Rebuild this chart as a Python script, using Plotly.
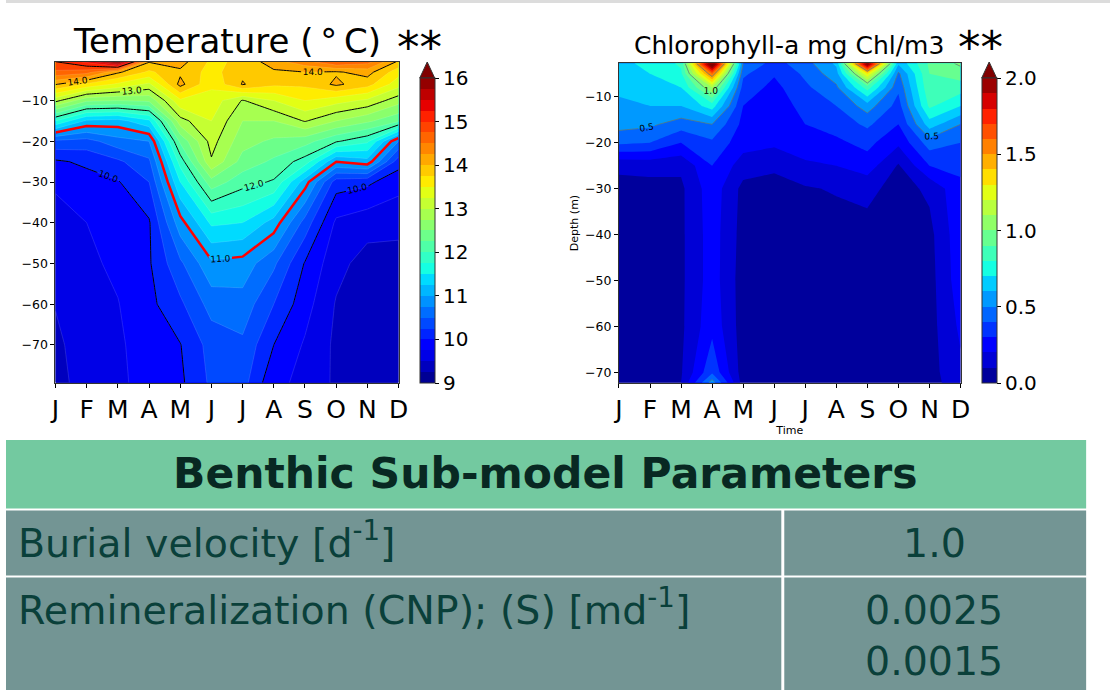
import plotly.graph_objects as go

W, H = 1120, 695
KX, BX = 1.009, -2.0  # horizontal calibration of the rendered page

# ---------------- data ----------------
months = ["J", "F", "M", "A", "M", "J", "J", "A", "S", "O", "N", "D"]

temp_depths = [-0.45, -3, -6, -10, -15, -20, -25, -30, -40, -50, -60, -70, -79.3]
temp_jan = [15.0, 14.7, 14.02, 13.08, 11.75, 10.44, 9.96, 9.77, 9.7, 9.62, 9.51, 9.45, 9.42]
temp_feb = [15.3, 14.6, 13.7, 12.55, 11.2, 10.4, 10.05, 9.9, 9.75, 9.7, 9.66, 9.62, 9.6]
temp_mar = [16.1, 14.05, 13.45, 12.5, 11.15, 10.65, 10.2, 9.98, 9.88, 9.8, 9.74, 9.7, 9.68]
temp_apr = [14.02, 13.7, 13.2, 12.55, 11.45, 10.75, 10.45, 10.25, 9.97, 9.97, 9.93, 9.9, 9.88]
temp_may = [14.1, 13.95, 14.08, 13.45, 12.9, 12.3, 11.85, 11.5, 10.9, 10.45, 10.2, 9.99, 9.95]
temp_jun = [13.7, 13.65, 13.55, 13.4, 13.25, 13.1, 12.97, 12.4, 11.55, 10.95, 10.6, 10.35, 10.3]
temp_jul = [13.8, 13.95, 14.02, 12.98, 12.75, 12.6, 12.4, 12.1, 11.5, 10.9, 10.65, 10.45, 10.35]
temp_aug = [14.15, 13.95, 13.8, 13.25, 12.75, 12.45, 12.2, 11.97, 11.15, 10.55, 10.25, 10.0, 9.8]
temp_sep = [14.4, 14.0, 13.8, 13.5, 13.02, 12.35, 11.88, 11.12, 10.4, 9.98, 9.85, 9.72, 9.7]
temp_oct = [14.75, 13.97, 14.05, 13.35, 12.75, 12.03, 11.0, 10.12, 9.7, 9.58, 9.48, 9.45, 9.45]
temp_nov = [14.6, 14.1, 13.85, 13.2, 12.55, 11.8, 11.15, 10.05, 9.6, 9.4, 9.33, 9.3, 9.3]
temp_dec = [13.95, 13.6, 13.35, 12.85, 12.3, 10.75, 10.1, 9.85, 9.56, 9.42, 9.38, 9.35, 9.35]

chl_depths = [-2.7, -5, -8, -12, -16, -20, -25, -30, -40, -50, -60, -70, -72.3]
chl_jan = [0.68, 0.66, 0.62, 0.58, 0.54, 0.42, 0.12, 0.07, 0.06, 0.05, 0.05, 0.05, 0.05]
chl_feb = [0.72, 0.7, 0.65, 0.6, 0.52, 0.4, 0.13, 0.07, 0.06, 0.05, 0.05, 0.05, 0.05]
chl_mar = [0.82, 0.78, 0.7, 0.6, 0.45, 0.3, 0.12, 0.08, 0.08, 0.08, 0.08, 0.09, 0.1]
chl_apr = [2.2, 1.6, 1.1, 0.75, 0.5, 0.38, 0.3, 0.26, 0.25, 0.25, 0.27, 0.38, 0.55]
chl_may = [0.5, 0.42, 0.36, 0.3, 0.27, 0.24, 0.15, 0.07, 0.06, 0.05, 0.05, 0.05, 0.05]
chl_jun = [0.36, 0.31, 0.27, 0.25, 0.24, 0.22, 0.12, 0.06, 0.05, 0.05, 0.05, 0.05, 0.05]
chl_jul = [0.46, 0.42, 0.38, 0.33, 0.3, 0.26, 0.18, 0.09, 0.05, 0.05, 0.05, 0.05, 0.05]
chl_aug = [0.62, 0.56, 0.48, 0.4, 0.34, 0.28, 0.2, 0.11, 0.05, 0.05, 0.05, 0.05, 0.05]
chl_sep = [2.1, 1.3, 0.85, 0.55, 0.42, 0.33, 0.25, 0.13, 0.06, 0.05, 0.05, 0.05, 0.05]
chl_oct = [0.62, 0.48, 0.42, 0.36, 0.3, 0.22, 0.09, 0.06, 0.05, 0.05, 0.05, 0.05, 0.05]
chl_nov = [0.92, 0.9, 0.88, 0.82, 0.65, 0.45, 0.3, 0.12, 0.07, 0.06, 0.06, 0.06, 0.06]
chl_dec = [1.02, 0.95, 0.85, 0.7, 0.5, 0.4, 0.32, 0.28, 0.27, 0.26, 0.22, 0.18, 0.16]

temp_ticks = [9, 10, 11, 12, 13, 14, 15, 16]
chl_ticks = [0.0, 0.5, 1.0, 1.5, 2.0]
depth_ticks = [-70, -60, -50, -40, -30, -20, -10]

table_title = "Benthic Sub-model Parameters"
param_names = ["Burial velocity [d<sup>-1</sup>]",
               "Remineralization (CNP); (S) [md<sup>-1</sup>]"]
param_values = ["1.0", "0.0025<br>0.0015"]

# ---------------- helpers ----------------
def jet(t):
    t = min(max(t, 0.0), 1.0)

    def interp(pts):
        for (x0, y0), (x1, y1) in zip(pts[:-1], pts[1:]):
            if t <= x1:
                return y0 + (y1 - y0) * (t - x0) / (x1 - x0)
        return pts[-1][1]

    r = interp([(0, 0), (0.35, 0), (0.66, 1), (0.89, 1), (1, 0.5)])
    g = interp([(0, 0), (0.125, 0), (0.375, 1), (0.64, 1), (0.91, 0), (1, 0)])
    b = interp([(0, 0.5), (0.11, 1), (0.34, 1), (0.65, 0), (1, 0)])
    return "rgb(%d,%d,%d)" % (round(r * 255), round(g * 255), round(b * 255))


def fill_scale(start, end, size, n=400):
    span = end - start
    out = []
    for i in range(n + 1):
        t = i / n
        v = start - size / 2 + t * (span + size)
        out.append([t, jet((v - start) / span)])
    return out


def band_scale(start, end, size):
    n = round((end - start) / size)
    sc = []
    for i in range(n):
        c = jet((i + 0.5) / n)
        sc += [[i / n, c], [(i + 1) / n, c]]
    return sc


def px_x(v):
    if v <= 0:
        return 0.0
    return min(max((v * KX + BX) / W, 0.0), 1.0)


def px_y(v):
    return 1 - v / H


def transpose(cols):
    return [list(r) for r in zip(*cols)]


temp_z = transpose([temp_jan, temp_feb, temp_mar, temp_apr, temp_may, temp_jun,
                    temp_jul, temp_aug, temp_sep, temp_oct, temp_nov, temp_dec])
chl_z = transpose([chl_jan, chl_feb, chl_mar, chl_apr, chl_may, chl_jun,
                   chl_jul, chl_aug, chl_sep, chl_oct, chl_nov, chl_dec])
mx = list(range(len(months)))

FONT = "DejaVu Sans"
fig = go.Figure()

# ---------------- temperature ----------------
fig.add_trace(go.Contour(
    x=mx, y=temp_depths, z=temp_z, autocontour=False,
    contours=dict(start=9, end=16, size=0.25, coloring="fill"),
    colorscale=fill_scale(9, 16, 0.25), showscale=False,
    line=dict(width=0.5, color="rgba(255,255,255,0.25)", smoothing=0),
    hoverinfo="skip", xaxis="x", yaxis="y"))
fig.add_trace(go.Contour(
    x=mx, y=temp_depths, z=temp_z, autocontour=False,
    contours=dict(start=12, end=15, size=1, coloring="none", showlabels=True,
                  labelfont=dict(size=9, color="black", family=FONT), labelformat=".1f"),
    line=dict(width=1, color="black", smoothing=0), showscale=False,
    hoverinfo="skip", xaxis="x", yaxis="y"))
fig.add_trace(go.Contour(
    x=mx, y=temp_depths, z=temp_z, autocontour=False,
    contours=dict(start=10, end=10, size=1, coloring="none", showlabels=True,
                  labelfont=dict(size=9, color="black", family=FONT), labelformat=".1f"),
    line=dict(width=1, color="black", smoothing=0), showscale=False,
    hoverinfo="skip", xaxis="x", yaxis="y"))
fig.add_trace(go.Contour(
    x=mx, y=temp_depths, z=temp_z, autocontour=False,
    contours=dict(start=11, end=11, size=1, coloring="none", showlabels=True,
                  labelfont=dict(size=9, color="black", family=FONT), labelformat=".1f"),
    line=dict(width=2.5, color="red", smoothing=0), showscale=False,
    hoverinfo="skip", xaxis="x", yaxis="y"))
# colorbar carrier
fig.add_trace(go.Scatter(
    x=[5], y=[-40], mode="markers", xaxis="x", yaxis="y", hoverinfo="skip",
    marker=dict(size=1, opacity=0, color=[9], cmin=9, cmax=16,
                colorscale=band_scale(9, 16, 0.25), showscale=True,
                colorbar=dict(x=px_x(418), xanchor="left", xpad=0, ypad=0,
                              y=px_y(78), yanchor="top", len=(383 - 78) / H,
                              thickness=15, thicknessmode="pixels",
                              outlinewidth=1, outlinecolor="#333",
                              tickvals=temp_ticks, ticktext=[str(t) for t in temp_ticks],
                              ticks="outside", ticklen=4, tickcolor="black",
                              tickfont=dict(size=20, color="black", family=FONT)))))

# ---------------- chlorophyll ----------------
fig.add_trace(go.Contour(
    x=mx, y=chl_depths, z=chl_z, autocontour=False,
    contours=dict(start=0, end=2, size=0.1, coloring="fill"),
    colorscale=fill_scale(0, 2, 0.1), showscale=False,
    line=dict(width=0, smoothing=0),
    hoverinfo="skip", xaxis="x2", yaxis="y2"))
fig.add_trace(go.Contour(
    x=mx, y=chl_depths, z=chl_z, autocontour=False,
    contours=dict(start=0.5, end=1.5, size=0.5, coloring="none", showlabels=True,
                  labelfont=dict(size=9, color="black", family=FONT), labelformat=".1f"),
    line=dict(width=0.8, color="#5c7a78", smoothing=0), showscale=False,
    hoverinfo="skip", xaxis="x2", yaxis="y2"))
fig.add_trace(go.Scatter(
    x=[5], y=[-40], mode="markers", xaxis="x2", yaxis="y2", hoverinfo="skip",
    marker=dict(size=1, opacity=0, color=[0], cmin=0, cmax=2,
                colorscale=band_scale(0, 2, 0.1), showscale=True,
                colorbar=dict(x=px_x(983), xanchor="left", xpad=0, ypad=0,
                              y=px_y(78), yanchor="top", len=(383 - 78) / H,
                              thickness=15, thicknessmode="pixels",
                              outlinewidth=1, outlinecolor="#333",
                              tickvals=chl_ticks, ticktext=["%.1f" % t for t in chl_ticks],
                              ticks="outside", ticklen=4, tickcolor="black",
                              tickfont=dict(size=20, color="black", family=FONT)))))

axis_common = dict(showline=True, mirror=True, linecolor="#333", linewidth=1,
                   ticks="outside", ticklen=4, tickcolor="black", showgrid=False,
                   zeroline=False)

fig.update_layout(
    width=W, height=H, autosize=False,
    margin=dict(l=0, r=0, t=0, b=0),
    paper_bgcolor="white", plot_bgcolor="white",
    showlegend=False,
    font=dict(family=FONT, color="black"),
    xaxis=dict(domain=[px_x(51.7), px_x(396.7)], range=[0, 11], anchor="y",
               tickvals=mx, ticktext=months, tickfont=dict(size=25), **axis_common),
    yaxis=dict(domain=[px_y(382.7), px_y(61.7)], range=[-79.3, -0.45], anchor="x",
               tickvals=depth_ticks, tickfont=dict(size=12.5), **axis_common),
    xaxis2=dict(domain=[px_x(618.3), px_x(961.7)], range=[0, 11], anchor="y2",
                tickvals=mx, ticktext=months, tickfont=dict(size=25),
                title=dict(text="Time", font=dict(size=11), standoff=0), **axis_common),
    yaxis2=dict(domain=[px_y(382.7), px_y(63.3)], range=[-72.3, -2.7], anchor="x2",
                tickvals=depth_ticks, tickfont=dict(size=12.5),
                title=dict(text="Depth (m)", font=dict(size=11), standoff=4), **axis_common),
)

shapes = []
annotations = []

# top grey strip
shapes.append(dict(type="rect", xref="paper", yref="paper", x0=0, x1=1,
                   y0=px_y(3), y1=1, fillcolor="#dcdcdc", line=dict(width=0), layer="above"))

# colorbar extension triangles
for cx in (418, 983):
    shapes.append(dict(type="path", xref="paper", yref="paper",
                       path="M %f %f L %f %f L %f %f Z" % (px_x(cx), px_y(78), px_x(cx + 15), px_y(78),
                                                           px_x(cx + 7.5), px_y(62)),
                       fillcolor="rgb(128,0,0)", line=dict(width=1, color="#333")))

# titles
annotations.append(dict(text="Temperature (\u2009°\u2009C)", x=px_x(224), y=px_y(41),
                        xref="paper", yref="paper", showarrow=False,
                        font=dict(size=34, color="black"), xanchor="center", yanchor="middle"))
annotations.append(dict(text="**", x=px_x(417.5), y=px_y(48), xref="paper", yref="paper",
                        showarrow=False, font=dict(size=45, color="black"),
                        xanchor="center", yanchor="middle"))
annotations.append(dict(text="Chlorophyll-a mg Chl/m3", x=px_x(789), y=px_y(46),
                        xref="paper", yref="paper", showarrow=False,
                        font=dict(size=25, color="black"), xanchor="center", yanchor="middle"))
annotations.append(dict(text="**", x=px_x(981.5), y=px_y(48), xref="paper", yref="paper",
                        showarrow=False, font=dict(size=45, color="black"),
                        xanchor="center", yanchor="middle"))

# ---------------- table ----------------
HEAD_FILL = "rgb(115,201,160)"
CELL_FILL = "rgb(115,149,148)"
BODY_TXT = "rgb(10,64,58)"
HEAD_TXT = "rgb(8,40,34)"
tab_left, tab_right, col_split = 0, 1088, 783
head_top, head_bot = 440, 508.5
row_tops = [510.5, 577.5]
row_bots = [575.5, 690]

shapes.append(dict(type="rect", xref="paper", yref="paper", x0=px_x(tab_left), x1=px_x(tab_right),
                   y0=px_y(head_bot), y1=px_y(head_top), fillcolor=HEAD_FILL, line=dict(width=0)))
annotations.append(dict(text="<b>%s</b>" % table_title, x=px_x((tab_left + tab_right) / 2),
                        y=px_y((head_top + head_bot) / 2 - 1), xref="paper", yref="paper",
                        showarrow=False, font=dict(size=42.5, color=HEAD_TXT),
                        xanchor="center", yanchor="middle"))
for i, (name, val) in enumerate(zip(param_names, param_values)):
    t, b = row_tops[i], row_bots[i]
    shapes.append(dict(type="rect", xref="paper", yref="paper", x0=px_x(tab_left), x1=px_x(col_split - 1.5),
                       y0=px_y(b), y1=px_y(t), fillcolor=CELL_FILL, line=dict(width=0)))
    shapes.append(dict(type="rect", xref="paper", yref="paper", x0=px_x(col_split + 1.5), x1=px_x(tab_right),
                       y0=px_y(b), y1=px_y(t), fillcolor=CELL_FILL, line=dict(width=0)))
    ty = t + 7
    annotations.append(dict(text=name, x=px_x(12), y=px_y(ty - 6), xref="paper", yref="paper",
                            showarrow=False, font=dict(size=39.5, color=BODY_TXT),
                            xanchor="left", yanchor="top", align="left"))
    annotations.append(dict(text=val, x=px_x((col_split + tab_right) / 2), y=px_y(ty),
                            xref="paper", yref="paper", showarrow=False,
                            font=dict(size=39.5, color=BODY_TXT),
                            xanchor="center", yanchor="top", align="center"))

fig.update_layout(shapes=shapes, annotations=annotations)
fig.write_html(
    "out.html",
    config={"displayModeBar": False},
    post_script=("document.documentElement.style.margin='0px';"
                 "document.documentElement.style.overflow='hidden';"
                 "document.body.style.margin='0px';document.body.style.padding='0px';"
                 "document.body.style.overflow='hidden';"),
)
